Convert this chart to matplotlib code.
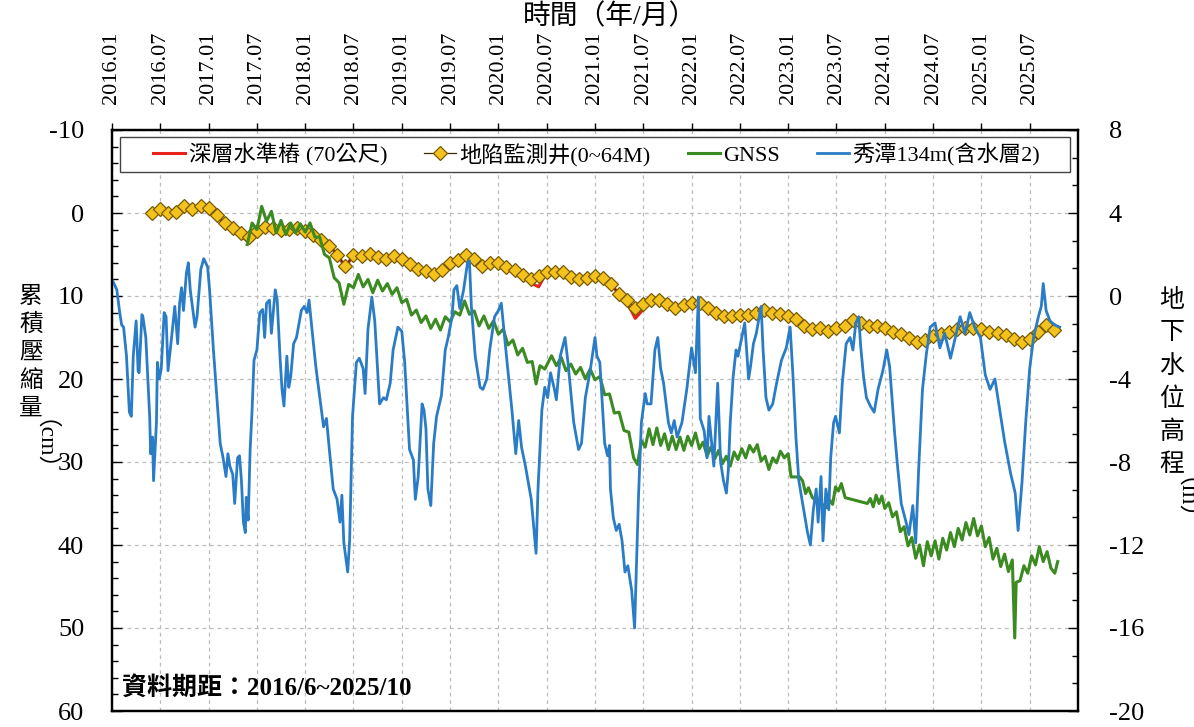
import numpy as np
import pandas as pd
import matplotlib
matplotlib.use("Agg")
import matplotlib.pyplot as plt
from matplotlib.patches import Rectangle
from matplotlib.ticker import MultipleLocator

plt.rcParams['font.family'] = ['Liberation Serif', 'Noto Sans CJK TC']
plt.rcParams['axes.unicode_minus'] = False

# ---- groundwater level, Xiutan 134m (aquifer 2), metres (right axis) ----
blue_t = [2016.00, 2016.05, 2016.08, 2016.10, 2016.12, 2016.15, 2016.18, 2016.20, 2016.22, 2016.25,
          2016.27, 2016.28, 2016.31, 2016.32, 2016.35, 2016.38, 2016.39, 2016.40, 2016.42, 2016.43,
          2016.46, 2016.47, 2016.49, 2016.51, 2016.54, 2016.56, 2016.58, 2016.61, 2016.65, 2016.68,
          2016.70, 2016.72, 2016.74, 2016.77, 2016.79, 2016.81, 2016.86, 2016.88, 2016.92, 2016.95,
          2016.99,
          2017.01, 2017.05, 2017.08, 2017.12, 2017.15, 2017.18, 2017.20, 2017.22, 2017.25, 2017.27,
          2017.30, 2017.32, 2017.34, 2017.36, 2017.38, 2017.39, 2017.41, 2017.43, 2017.45, 2017.47,
          2017.50, 2017.53, 2017.56, 2017.58, 2017.60, 2017.63, 2017.65, 2017.69, 2017.71, 2017.74,
          2017.76, 2017.78, 2017.81, 2017.83, 2017.85, 2017.88, 2017.91, 2017.96, 2017.99,
          2018.02, 2018.04, 2018.07, 2018.11, 2018.16, 2018.19, 2018.22, 2018.25, 2018.29, 2018.33,
          2018.36, 2018.38, 2018.40, 2018.44, 2018.46, 2018.49, 2018.53, 2018.56, 2018.60, 2018.62,
          2018.65, 2018.69, 2018.72, 2018.77, 2018.81, 2018.84, 2018.88, 2018.91, 2018.96,
          2019.00, 2019.03, 2019.08, 2019.12, 2019.14, 2019.17, 2019.21, 2019.23, 2019.25, 2019.27,
          2019.30, 2019.33, 2019.36, 2019.41, 2019.45, 2019.48, 2019.52, 2019.54, 2019.57, 2019.60,
          2019.64, 2019.68, 2019.70, 2019.72, 2019.76, 2019.81, 2019.84, 2019.88, 2019.91, 2019.96,
          2020.00, 2020.03, 2020.05, 2020.09, 2020.14, 2020.18, 2020.21, 2020.24, 2020.28, 2020.31,
          2020.34, 2020.39, 2020.41, 2020.45, 2020.48, 2020.51, 2020.54, 2020.58, 2020.60, 2020.64,
          2020.69, 2020.72, 2020.78, 2020.83, 2020.86, 2020.90, 2020.95,
          2021.00, 2021.02, 2021.05, 2021.10, 2021.13, 2021.15, 2021.16, 2021.19, 2021.22, 2021.25,
          2021.28, 2021.31, 2021.34, 2021.38, 2021.41, 2021.45, 2021.48, 2021.52, 2021.54, 2021.58,
          2021.62, 2021.65, 2021.68, 2021.71, 2021.76, 2021.79, 2021.82, 2021.85, 2021.90, 2021.95,
          2022.00, 2022.04, 2022.07, 2022.09, 2022.13, 2022.16, 2022.18, 2022.21, 2022.23, 2022.27,
          2022.30, 2022.33, 2022.36, 2022.38, 2022.40, 2022.43, 2022.46, 2022.48, 2022.52, 2022.55,
          2022.59, 2022.61, 2022.64, 2022.67, 2022.70, 2022.72, 2022.74, 2022.77, 2022.80, 2022.84,
          2022.88, 2022.93, 2022.98,
          2023.02, 2023.05, 2023.08, 2023.11, 2023.16, 2023.20, 2023.23, 2023.26, 2023.29, 2023.31,
          2023.34, 2023.36, 2023.39, 2023.42, 2023.44, 2023.47, 2023.49, 2023.53, 2023.56, 2023.60,
          2023.64, 2023.67, 2023.70, 2023.73, 2023.75, 2023.78, 2023.81, 2023.85, 2023.89, 2023.93,
          2023.98,
          2024.02, 2024.05, 2024.10, 2024.13, 2024.17, 2024.22, 2024.25, 2024.29, 2024.32, 2024.35,
          2024.39, 2024.43, 2024.47, 2024.52, 2024.57, 2024.62, 2024.68, 2024.73, 2024.78, 2024.83,
          2024.88, 2024.93, 2024.99,
          2025.04, 2025.09, 2025.14, 2025.19, 2025.24, 2025.30, 2025.35, 2025.38, 2025.42, 2025.46,
          2025.50, 2025.54, 2025.59, 2025.62, 2025.64, 2025.67, 2025.71, 2025.76, 2025.81]
blue_h = [0.8, 0.3, -0.8, -1.4, -1.5, -2.9, -5.6, -5.8, -2.9, -1.2,
          -3.6, -3.7, -0.9, -1.0, -2.0, -4.9, -5.8, -7.6, -6.8, -8.9,
          -6.1, -3.2, -4.0, -3.5, -0.8, -1.0, -3.6, -2.3, -0.5, -2.3,
          -0.35, 0.4, -0.7, 1.1, 1.6, 0.3, -1.5, -1.0, 1.3, 1.8,
          1.4,
          0.3, -2.6, -4.5, -7.1, -7.8, -8.7, -7.6, -8.2, -8.6, -10.0,
          -7.8, -7.7, -8.9, -10.9, -11.4, -9.7, -10.8, -7.4, -5.5, -3.1,
          -2.6, -0.8, -0.65, -2.0, -0.35, -0.2, -1.8, 0.3, -0.2, -3.0,
          -4.5, -5.3, -2.9, -4.4, -3.9, -2.3, -2.0, -0.7, -0.5,
          -0.8, -0.2, -1.6, -3.4, -5.2, -6.3, -5.9, -7.4, -9.3, -9.8,
          -10.9, -9.6, -11.9, -13.3, -11.8, -5.8, -3.2, -3.0, -3.5, -4.7,
          -1.6, -0.05, -1.2, -5.2, -4.9, -5.0, -4.2, -2.6, -1.5,
          -1.7, -3.2, -7.4, -7.9, -9.8, -8.7, -5.2, -5.5, -6.4, -9.3,
          -10.1, -7.1, -5.8, -4.8, -2.6, -2.0, -1.0, 0.3, 0.5, -0.6,
          0.3, 1.6, 1.7, -0.5, -2.9, -4.4, -4.5, -4.0, -2.6, -1.0,
          -0.7, -0.35, -1.3, -3.2, -5.5, -7.6, -6.0, -7.3, -8.2, -9.0,
          -9.8, -12.4, -9.3, -5.5, -4.4, -4.9, -3.7, -4.5, -5.0, -2.9,
          -2.0, -3.2, -6.1, -7.4, -7.1, -4.9, -3.6,
          -2.0, -2.9, -3.2, -7.1, -7.7, -7.2, -9.3, -10.7, -11.3, -11.0,
          -11.8, -13.3, -13.0, -14.2, -16.0, -9.7, -6.1, -4.7, -5.2, -5.2,
          -2.6, -2.0, -3.5, -4.2, -6.1, -6.6, -6.0, -6.8, -6.1, -4.5,
          -2.5, -3.7, -0.05, -5.9, -6.5, -7.8, -5.8, -7.2, -8.2, -4.2,
          -8.0, -8.9, -9.5, -8.4, -6.1, -3.9, -2.6, -2.9, -2.0, -1.3,
          -4.0, -3.4, -2.3, -1.8, -1.0, -0.5, -2.6, -4.9, -5.5, -5.2,
          -4.2, -3.1, -2.5,
          -1.5, -3.9, -6.8, -8.9, -10.3, -11.4, -12.0, -10.3, -9.3, -10.9,
          -8.7, -11.8, -9.3, -10.3, -7.8, -6.1, -5.8, -6.6, -4.2, -2.3,
          -2.0, -2.6, -1.3, -1.0, -2.4, -3.9, -4.9, -5.3, -5.6, -4.5,
          -3.6,
          -2.6, -3.4, -6.5, -8.1, -10.0, -10.9, -11.5, -10.1, -11.9, -8.4,
          -4.5, -2.8, -1.5, -1.3, -2.5, -1.8, -3.0, -2.0, -1.0, -1.8,
          -0.8, -1.5, -2.0,
          -3.8, -4.5, -4.0, -5.5, -7.0, -8.5, -9.5, -11.3, -9.0, -6.0,
          -3.5, -2.0, -1.0, -0.5, 0.6, -0.7, -1.2, -1.4, -1.5]

# ---- GNSS cumulative subsidence, cm (left axis) ----
gnss_t = [2017.40, 2017.45, 2017.50, 2017.55, 2017.60, 2017.65, 2017.70, 2017.75, 2017.80, 2017.85,
          2017.90, 2017.95,
          2018.00, 2018.05, 2018.10, 2018.15, 2018.20, 2018.25, 2018.30, 2018.35, 2018.40, 2018.45,
          2018.50, 2018.55, 2018.60, 2018.65, 2018.70, 2018.75, 2018.80, 2018.85, 2018.90, 2018.95,
          2019.00, 2019.05, 2019.10, 2019.15, 2019.20, 2019.25, 2019.30, 2019.35, 2019.40, 2019.45,
          2019.50, 2019.55, 2019.60, 2019.65, 2019.70, 2019.75, 2019.80, 2019.85, 2019.90, 2019.95,
          2020.00, 2020.05, 2020.10, 2020.15, 2020.20, 2020.25, 2020.30, 2020.35, 2020.39, 2020.43,
          2020.48, 2020.55, 2020.60, 2020.65, 2020.70, 2020.75, 2020.80, 2020.85, 2020.90, 2020.95,
          2021.00, 2021.05, 2021.10, 2021.15, 2021.20, 2021.25, 2021.30, 2021.35, 2021.40, 2021.44,
          2021.48, 2021.52, 2021.56, 2021.60, 2021.64, 2021.68, 2021.72, 2021.76, 2021.80, 2021.84,
          2021.88, 2021.92, 2021.96,
          2022.00, 2022.04, 2022.08, 2022.12, 2022.16, 2022.20, 2022.24, 2022.28, 2022.32, 2022.36,
          2022.40, 2022.44, 2022.48, 2022.52, 2022.56, 2022.60, 2022.64, 2022.68, 2022.72, 2022.76,
          2022.80, 2022.84, 2022.88, 2022.92, 2022.96,
          2023.00, 2023.03, 2023.12, 2023.15, 2023.18, 2023.21, 2023.25, 2023.40, 2023.43, 2023.46,
          2023.49, 2023.52, 2023.55, 2023.59, 2023.82, 2023.85, 2023.88, 2023.91, 2023.94, 2023.97,
          2024.00, 2024.04, 2024.08, 2024.12, 2024.16, 2024.20, 2024.24, 2024.28, 2024.32, 2024.36,
          2024.40, 2024.44, 2024.48, 2024.52, 2024.56, 2024.60, 2024.64, 2024.68, 2024.72, 2024.76,
          2024.80, 2024.84, 2024.88, 2024.92, 2024.96,
          2025.00, 2025.04, 2025.08, 2025.12, 2025.16, 2025.20, 2025.24, 2025.28, 2025.32, 2025.345,
          2025.36, 2025.40, 2025.44, 2025.48, 2025.52, 2025.56, 2025.60, 2025.64, 2025.68, 2025.72,
          2025.76, 2025.79]
gnss_cm = [3.8, 1.2, 2.0, -0.8, 1.0, -0.2, 2.4, 0.9, 2.6, 1.2,
           2.4, 1.3,
           2.3, 1.2, 2.9, 2.9, 5.0, 5.4, 7.8, 8.4, 11.0, 8.6,
           9.0, 7.4, 8.9, 8.0, 9.6, 8.1, 9.4, 8.5, 9.8, 9.0,
           10.8, 10.4, 12.3, 11.7, 13.2, 12.4, 13.9, 12.8, 14.1, 12.5,
           13.1, 11.9, 12.3, 10.6, 12.2, 11.8, 13.6, 12.4, 13.9, 13.0,
           14.6, 14.0, 15.9, 15.3, 17.1, 16.3, 18.0, 17.9, 20.6, 18.4,
           18.8, 17.2, 18.4, 17.4, 19.0, 18.2, 19.4, 18.6, 20.0, 18.8,
           20.1, 19.7, 21.9, 21.8, 24.1, 24.0, 26.2, 26.4, 29.5, 30.3,
           27.4, 28.2, 26.0, 27.9, 25.9, 28.0, 26.6, 28.5, 26.9, 28.5,
           27.0, 28.6, 26.9,
           28.0, 26.5, 28.4, 27.6, 29.3, 28.2, 29.6, 28.6, 30.2, 29.3,
           30.5, 28.8, 29.7, 28.4, 29.5, 28.0, 28.8, 27.9, 29.9, 29.3,
           30.9, 29.5, 30.1, 28.7, 29.5,
           29.0, 31.8, 31.8, 32.3, 33.8, 33.1, 34.3, 35.5, 34.6, 35.1,
           33.0, 33.5, 32.6, 34.3, 35.0, 34.4, 35.4, 34.0, 35.0, 34.1,
           35.6, 34.9, 36.6, 36.0, 38.4, 37.8, 40.1, 39.1, 41.6, 40.0,
           42.5, 39.6, 41.3, 39.5, 41.7, 39.2, 40.6, 38.5, 40.2, 38.0,
           39.4, 37.3, 38.8, 36.8, 38.9,
           37.7, 40.2, 39.1, 41.7, 40.4, 42.6, 41.1, 43.2, 41.8, 51.2,
           44.5, 44.3, 42.5, 43.4, 41.3, 42.4, 40.2, 42.0, 40.8, 42.8,
           43.4, 42.0]

# ---- subsidence monitoring well (0~64M), monthly from 2016/06, cm ----
well_cm = [0.0, -0.5, 0.0, -0.1, -0.8, -0.5, -0.8, -0.6, 0.3, 1.2, 1.8, 2.4,
           2.9, 2.2, 1.7, 1.8, 2.0, 1.9, 1.8, 2.2, 2.7, 3.3, 4.0, 5.0,
           6.4, 5.0, 5.2, 4.9, 5.3, 5.6, 5.2, 5.5, 6.2, 6.8, 7.0, 7.3,
           6.9, 6.0, 5.7, 5.0, 5.6, 6.4, 6.0, 6.0, 6.5, 6.9, 7.5, 8.0,
           7.6, 7.1, 7.1, 7.1, 7.7, 8.0, 7.8, 7.6, 7.8, 8.6, 9.7, 10.5,
           11.4, 11.0, 10.5, 10.5, 11.0, 11.4, 11.1, 10.9, 10.8, 11.4, 12.0, 12.4,
           12.4, 12.3, 12.3, 12.0, 11.7, 12.0, 12.2, 12.4, 12.8, 13.6, 14.0, 13.9,
           14.2, 13.8, 13.6, 12.9, 13.3, 13.6, 13.6, 13.8, 14.3, 14.6, 15.1, 15.5,
           15.3, 14.8, 14.6, 14.3, 14.0, 13.9, 13.8, 14.0, 14.3, 14.5, 14.7, 15.2,
           15.6, 15.2, 14.3, 13.5, 14.1]

# ---- deep benchmark (70 m), same months, cm ----
bench_cm = [0.0, -0.5, 0.0, -0.1, -0.8, -0.5, -0.8, -0.6, 0.3, 1.2, 1.9, 2.6,
            3.6, 2.2, 1.7, 1.8, 2.0, 1.9, 1.8, 2.2, 2.7, 3.3, 4.0, 5.0,
            6.6, 5.0, 5.2, 4.9, 5.3, 5.6, 5.2, 5.5, 6.2, 6.8, 7.0, 7.3,
            6.9, 6.0, 5.7, 5.0, 5.6, 6.4, 6.0, 6.0, 6.5, 6.9, 7.5, 8.4,
            8.9, 7.1, 7.1, 7.1, 7.7, 8.0, 7.8, 7.6, 7.8, 8.6, 9.8, 10.8,
            12.7, 11.6, 10.5, 10.5, 11.0, 11.4, 11.1, 10.9, 10.8, 11.4, 12.3, 12.6,
            12.4, 12.3, 12.3, 12.0, 11.7, 12.0, 12.2, 12.4, 12.8, 13.6, 14.0, 13.9,
            14.2, 13.8, 13.6, 12.9, 13.3, 13.6, 13.6, 13.8, 14.3, 14.6, 15.3, 15.5,
            15.3, 14.8, 14.6, 14.3, 14.0, 14.2, 14.1, 14.3, 14.3, 14.5, 14.7, 15.2,
            15.6, 15.2, 14.3, 13.7, 14.4]

tick_labels = ['2016.01', '2016.07', '2017.01', '2017.07', '2018.01', '2018.07',
               '2019.01', '2019.07', '2020.01', '2020.07', '2021.01', '2021.07',
               '2022.01', '2022.07', '2023.01', '2023.07', '2024.01', '2024.07',
               '2025.01', '2025.07']
tick_pos = [2016 + 0.5 * k for k in range(len(tick_labels))]

months = pd.date_range('2016-06-01', periods=len(well_cm), freq='MS')
month_t = months.year + (months.month - 1) / 12.0

red = '#e8231c'
gold = '#f3c21c'
green = '#3c8a22'
blue = '#2a7cc7'

fig = plt.figure(figsize=(11.94, 7.27), dpi=100)
ax = fig.add_axes([112 / 1194, 16 / 727, 966 / 1194, 581 / 727])
ax2 = ax.twinx()

l_red, = ax.plot(month_t, bench_cm, color=red, lw=2.2, zorder=2)
l_well, = ax.plot(month_t, well_cm, color='#3b2d05', lw=0.9, marker='D', ms=7.5,
                  mfc=gold, mec='#7a5a00', mew=0.9, zorder=3)
l_gnss, = ax.plot(gnss_t, gnss_cm, color=green, lw=2.2, zorder=4)
l_blue, = ax2.plot(blue_t, blue_h, color=blue, lw=2.0, zorder=2)

ax.set_xlim(2016, 2026)
ax.set_ylim(60, -10)
ax2.set_ylim(-20, 8)

ax.xaxis.tick_top()
ax.set_xticks(tick_pos)
ax.set_xticklabels(tick_labels)
ax.tick_params(axis='x', which='major', top=True, bottom=False, labeltop=True,
               labelbottom=False, direction='out', length=5, width=1,
               labelrotation=90, labelsize=16, pad=14)

ax.set_yticks(range(-10, 61, 10))
ax.yaxis.set_minor_locator(MultipleLocator(2))
ax.tick_params(axis='y', which='major', direction='in', length=7, width=1,
               labelsize=19, pad=20)
ax.tick_params(axis='y', which='minor', direction='in', length=4, width=1)

ax2.set_yticks(range(-20, 9, 4))
ax2.yaxis.set_minor_locator(MultipleLocator(4 / 3))
ax2.tick_params(axis='y', which='major', direction='in', length=7, width=1,
                labelsize=19, pad=22)
ax2.tick_params(axis='y', which='minor', direction='in', length=4, width=1)

ax.grid(True, which='major', color='#bcbcbc', linestyle=(0, (3, 3)), linewidth=0.9)
ax.set_axisbelow(True)

for a in (ax, ax2):
    for s in a.spines.values():
        s.set_linewidth(1.6)
        s.set_color('black')

# legend with its own frame
frame = Rectangle((0.0083, 0.9277), 0.9834, 0.0603, transform=ax2.transAxes,
                  facecolor='white', edgecolor='#444444', linewidth=1.0, zorder=8)
ax2.add_patch(frame)
leg = ax2.legend([l_red, l_well, l_gnss, l_blue],
                 ['深層水準樁 (70公尺)', '地陷監測井(0~64M)', 'GNSS', '秀潭134m(含水層2)'],
                 loc='center', bbox_to_anchor=(0.0424, 0.9277, 0.9183, 0.0603),
                 mode='expand', ncol=4, frameon=False, fontsize=16,
                 handlelength=1.45, handletextpad=0.15, borderpad=0, borderaxespad=0)
leg.set_zorder(9)

ax2.text(0.0104, 0.0396, '資料期距：2016/6~2025/10', transform=ax2.transAxes,
         fontsize=18, fontweight='bold', ha='left', va='center', zorder=9)

# axis titles
fig.text(610 / 1194, 1 - 17 / 727, '時間（年/月）', fontsize=20, ha='center', va='center')

for i, ch in enumerate('累積壓縮量'):
    fig.text(31 / 1194, 1 - (297 + i * 28) / 727, ch, fontsize=17,
             ha='center', va='center')
fig.text(31 / 1194, 1 - 457 / 727, '（cm）', fontsize=17, rotation=-90,
         ha='center', va='center')

for i, ch in enumerate('地下水位高程'):
    fig.text(1172 / 1194, 1 - (300 + i * 33) / 727, ch, fontsize=18,
             ha='center', va='center')
fig.text(1172 / 1194, 1 - 512 / 727, '（m）', fontsize=18, rotation=-90,
         ha='center', va='center')

fig.savefig('out.png', dpi=100)
